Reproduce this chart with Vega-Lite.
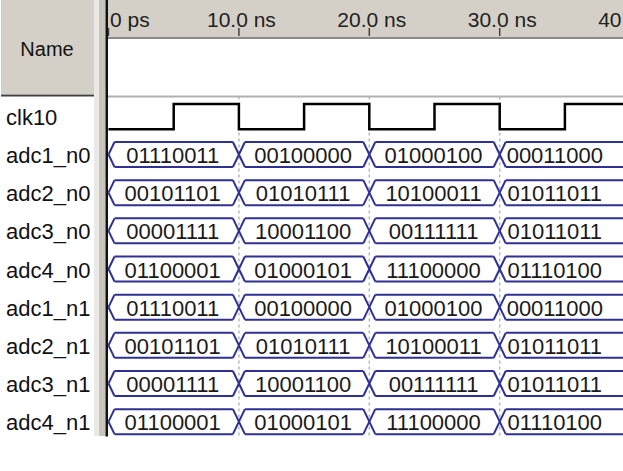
{
  "$schema": "https://vega.github.io/schema/vega-lite/v6.json",
  "padding": 0,
  "spacing": 0,
  "bounds": "flush",
  "background": "white",
  "config": {"view": {"stroke": null}},
  "datasets": {
    "names": [
      {"sig": "clk10", "k": 0},
      {"sig": "adc1_n0", "k": 1},
      {"sig": "adc2_n0", "k": 2},
      {"sig": "adc3_n0", "k": 3},
      {"sig": "adc4_n0", "k": 4},
      {"sig": "adc1_n1", "k": 5},
      {"sig": "adc2_n1", "k": 6},
      {"sig": "adc3_n1", "k": 7},
      {"sig": "adc4_n1", "k": 8}
    ],
    "clk": [
      {"t": 0, "lvl": 0}, {"t": 5, "lvl": 1}, {"t": 10, "lvl": 0}, {"t": 15, "lvl": 1},
      {"t": 20, "lvl": 0}, {"t": 25, "lvl": 1}, {"t": 30, "lvl": 0}, {"t": 35, "lvl": 1}, {"t": 40, "lvl": 1}
    ],
    "ruler": [
      {"t": 0, "label": "0 ps"},
      {"t": 10, "label": "10.0 ns"},
      {"t": 20, "label": "20.0 ns"},
      {"t": 30, "label": "30.0 ns"},
      {"t": 40, "label": "40.0 ns"}
    ],
    "bus": [
      {"sig": "adc1_n0", "k": 1, "t0": 0, "t1": 10, "mid": 5, "val": "01110011"},
      {"sig": "adc1_n0", "k": 1, "t0": 10, "t1": 20, "mid": 15, "val": "00100000"},
      {"sig": "adc1_n0", "k": 1, "t0": 20, "t1": 30, "mid": 25, "val": "01000100"},
      {"sig": "adc1_n0", "k": 1, "t0": 30, "t1": 40, "mid": 34.3, "val": "00011000"},
      {"sig": "adc2_n0", "k": 2, "t0": 0, "t1": 10, "mid": 5, "val": "00101101"},
      {"sig": "adc2_n0", "k": 2, "t0": 10, "t1": 20, "mid": 15, "val": "01010111"},
      {"sig": "adc2_n0", "k": 2, "t0": 20, "t1": 30, "mid": 25, "val": "10100011"},
      {"sig": "adc2_n0", "k": 2, "t0": 30, "t1": 40, "mid": 34.3, "val": "01011011"},
      {"sig": "adc3_n0", "k": 3, "t0": 0, "t1": 10, "mid": 5, "val": "00001111"},
      {"sig": "adc3_n0", "k": 3, "t0": 10, "t1": 20, "mid": 15, "val": "10001100"},
      {"sig": "adc3_n0", "k": 3, "t0": 20, "t1": 30, "mid": 25, "val": "00111111"},
      {"sig": "adc3_n0", "k": 3, "t0": 30, "t1": 40, "mid": 34.3, "val": "01011011"},
      {"sig": "adc4_n0", "k": 4, "t0": 0, "t1": 10, "mid": 5, "val": "01100001"},
      {"sig": "adc4_n0", "k": 4, "t0": 10, "t1": 20, "mid": 15, "val": "01000101"},
      {"sig": "adc4_n0", "k": 4, "t0": 20, "t1": 30, "mid": 25, "val": "11100000"},
      {"sig": "adc4_n0", "k": 4, "t0": 30, "t1": 40, "mid": 34.3, "val": "01110100"},
      {"sig": "adc1_n1", "k": 5, "t0": 0, "t1": 10, "mid": 5, "val": "01110011"},
      {"sig": "adc1_n1", "k": 5, "t0": 10, "t1": 20, "mid": 15, "val": "00100000"},
      {"sig": "adc1_n1", "k": 5, "t0": 20, "t1": 30, "mid": 25, "val": "01000100"},
      {"sig": "adc1_n1", "k": 5, "t0": 30, "t1": 40, "mid": 34.3, "val": "00011000"},
      {"sig": "adc2_n1", "k": 6, "t0": 0, "t1": 10, "mid": 5, "val": "00101101"},
      {"sig": "adc2_n1", "k": 6, "t0": 10, "t1": 20, "mid": 15, "val": "01010111"},
      {"sig": "adc2_n1", "k": 6, "t0": 20, "t1": 30, "mid": 25, "val": "10100011"},
      {"sig": "adc2_n1", "k": 6, "t0": 30, "t1": 40, "mid": 34.3, "val": "01011011"},
      {"sig": "adc3_n1", "k": 7, "t0": 0, "t1": 10, "mid": 5, "val": "00001111"},
      {"sig": "adc3_n1", "k": 7, "t0": 10, "t1": 20, "mid": 15, "val": "10001100"},
      {"sig": "adc3_n1", "k": 7, "t0": 20, "t1": 30, "mid": 25, "val": "00111111"},
      {"sig": "adc3_n1", "k": 7, "t0": 30, "t1": 40, "mid": 34.3, "val": "01011011"},
      {"sig": "adc4_n1", "k": 8, "t0": 0, "t1": 10, "mid": 5, "val": "01100001"},
      {"sig": "adc4_n1", "k": 8, "t0": 10, "t1": 20, "mid": 15, "val": "01000101"},
      {"sig": "adc4_n1", "k": 8, "t0": 20, "t1": 30, "mid": 25, "val": "11100000"},
      {"sig": "adc4_n1", "k": 8, "t0": 30, "t1": 40, "mid": 34.3, "val": "01110100"}
    ]
  },
  "hconcat": [
    {
      "width": 107,
      "height": 471,
      "layer": [
        {
          "data": {"values": [{}]},
          "mark": {"type": "rect", "fill": "#d4d0c8"},
          "encoding": {
            "x": {"value": 0}, "x2": {"value": 93},
            "y": {"datum": -3.0477, "scale": {"type": "linear", "domain": [-3.0477, 9.2919], "reverse": true, "nice": false, "zero": false}, "axis": null},
            "y2": {"datum": -0.585}
          }
        },
        {
          "data": {"values": [{}]},
          "mark": {"type": "rule", "stroke": "#404040", "strokeWidth": 2},
          "encoding": {
            "x": {"value": 0}, "x2": {"value": 93},
            "y": {"datum": -0.5457}
          }
        },
        {
          "data": {"values": [{}]},
          "mark": {"type": "rect", "fill": "#ebe9e5"},
          "encoding": {
            "x": {"value": 93}, "x2": {"value": 98},
            "y": {"datum": -3.0477}, "y2": {"datum": 8.375}
          }
        },
        {
          "data": {"values": [{}]},
          "mark": {"type": "rect", "fill": "#c9c5bd"},
          "encoding": {
            "x": {"value": 98}, "x2": {"value": 104.5},
            "y": {"datum": -3.0477}, "y2": {"datum": 8.375}
          }
        },
        {
          "data": {"values": [{}]},
          "mark": {"type": "rect", "fill": "#111111"},
          "encoding": {
            "x": {"value": 104.5}, "x2": {"value": 107},
            "y": {"datum": -3.0477}, "y2": {"datum": 8.39}
          }
        },
        {
          "data": {"values": [{"h": "Name"}]},
          "mark": {"type": "text", "font": "Liberation Sans", "fontSize": 20, "align": "center", "baseline": "alphabetic", "fill": "#111111"},
          "encoding": {
            "x": {"value": 46},
            "y": {"datum": -1.5806},
            "text": {"field": "h"}
          }
        },
        {
          "data": {"name": "names"},
          "mark": {"type": "text", "font": "Liberation Sans", "fontSize": 22, "align": "left", "baseline": "alphabetic", "dy": 8.5, "fill": "#111111"},
          "encoding": {
            "x": {"value": 5},
            "y": {"field": "k", "type": "quantitative"},
            "text": {"field": "sig"}
          }
        }
      ]
    },
    {
      "width": 516,
      "height": 471,
      "resolve": {"scale": {"y": "independent"}},
      "layer": [
        {
          "data": {"values": [{}]},
          "mark": {"type": "rect", "fill": "#d4d0c8"},
          "encoding": {
            "x": {"value": 0}, "x2": {"value": "width"},
            "y": {"datum": -3.0477, "scale": {"type": "linear", "domain": [-3.0477, 9.2919], "reverse": true, "nice": false, "zero": false}, "axis": null},
            "y2": {"datum": -2.078}
          }
        },
        {
          "data": {"values": [{}]},
          "mark": {"type": "rule", "stroke": "#8a8a8a", "strokeWidth": 2},
          "encoding": {
            "x": {"value": 0}, "x2": {"value": "width"},
            "y": {"datum": -2.052, "scale": {"type": "linear", "domain": [-3.0477, 9.2919], "reverse": true, "nice": false, "zero": false}, "axis": null}
          }
        },
        {
          "data": {"values": [{}]},
          "mark": {"type": "rule", "stroke": "#b0b0b0", "strokeWidth": 2},
          "encoding": {
            "x": {"value": 0}, "x2": {"value": "width"},
            "y": {"datum": -0.52, "scale": {"type": "linear", "domain": [-3.0477, 9.2919], "reverse": true, "nice": false, "zero": false}, "axis": null}
          }
        },
        {
          "data": {"name": "ruler"},
          "mark": {"type": "rule", "stroke": "#404040", "strokeWidth": 1.5, "clip": true},
          "encoding": {
            "x": {"field": "t", "type": "quantitative", "scale": {"type": "linear", "domain": [-0.0383, 39.532], "nice": false, "zero": false}, "axis": null},
            "y": {"datum": -2.314, "scale": {"type": "linear", "domain": [-3.0477, 9.2919], "reverse": true, "nice": false, "zero": false}, "axis": null},
            "y2": {"datum": -2.104}
          }
        },
        {
          "data": {"name": "ruler"},
          "transform": [{"filter": "datum.t == 0"}],
          "mark": {"type": "text", "font": "Liberation Sans", "fontSize": 21, "align": "left", "dx": 1.5, "baseline": "alphabetic", "fill": "#222222"},
          "encoding": {
            "x": {"field": "t", "type": "quantitative", "scale": {"type": "linear", "domain": [-0.0383, 39.532], "nice": false, "zero": false}, "axis": null},
            "y": {"datum": -2.348, "scale": {"type": "linear", "domain": [-3.0477, 9.2919], "reverse": true, "nice": false, "zero": false}, "axis": null},
            "text": {"field": "label"}
          }
        },
        {
          "data": {"name": "ruler"},
          "transform": [{"filter": "datum.t > 0"}],
          "mark": {"type": "text", "font": "Liberation Sans", "fontSize": 21, "align": "center", "dx": 2.5, "baseline": "alphabetic", "fill": "#222222", "clip": true},
          "encoding": {
            "x": {"field": "t", "type": "quantitative", "scale": {"type": "linear", "domain": [-0.0383, 39.532], "nice": false, "zero": false}, "axis": null},
            "y": {"datum": -2.348, "scale": {"type": "linear", "domain": [-3.0477, 9.2919], "reverse": true, "nice": false, "zero": false}, "axis": null},
            "text": {"field": "label"}
          }
        },
        {
          "data": {"name": "ruler"},
          "transform": [{"filter": "datum.t > 0 && datum.t < 40"}],
          "mark": {"type": "rule", "stroke": "#b8b8b8", "strokeWidth": 1.5, "strokeDash": [3, 3]},
          "encoding": {
            "x": {"field": "t", "type": "quantitative", "scale": {"type": "linear", "domain": [-0.0383, 39.532], "nice": false, "zero": false}, "axis": null},
            "y": {"datum": -0.52, "scale": {"type": "linear", "domain": [-3.0477, 9.2919], "reverse": true, "nice": false, "zero": false}, "axis": null},
            "y2": {"datum": 8.40}
          }
        },
        {
          "data": {"name": "clk"},
          "mark": {"type": "line", "interpolate": "step-after", "stroke": "#000000", "strokeWidth": 2.5, "clip": true},
          "encoding": {
            "x": {"field": "t", "type": "quantitative", "scale": {"type": "linear", "domain": [-0.0383, 39.532], "nice": false, "zero": false}, "axis": null},
            "y": {"field": "lvl", "type": "quantitative", "scale": {"type": "linear", "domain": [-13.506, 5.111], "nice": false, "zero": false}, "axis": null}
          }
        },
        {
          "data": {"name": "bus"},
          "mark": {"type": "rule", "stroke": "#2e3192", "strokeWidth": 2, "xOffset": 6, "x2Offset": -6, "yOffset": -12.5, "clip": true},
          "encoding": {
            "x": {"field": "t0", "type": "quantitative", "scale": {"type": "linear", "domain": [-0.0383, 39.532], "nice": false, "zero": false}, "axis": null},
            "x2": {"field": "t1"},
            "y": {"field": "k", "type": "quantitative", "scale": {"type": "linear", "domain": [-3.0477, 9.2919], "reverse": true, "nice": false, "zero": false}, "axis": null}
          }
        },
        {
          "data": {"name": "bus"},
          "mark": {"type": "rule", "stroke": "#2e3192", "strokeWidth": 2, "xOffset": 6, "x2Offset": -6, "yOffset": 12.5, "clip": true},
          "encoding": {
            "x": {"field": "t0", "type": "quantitative", "scale": {"type": "linear", "domain": [-0.0383, 39.532], "nice": false, "zero": false}, "axis": null},
            "x2": {"field": "t1"},
            "y": {"field": "k", "type": "quantitative", "scale": {"type": "linear", "domain": [-3.0477, 9.2919], "reverse": true, "nice": false, "zero": false}, "axis": null}
          }
        },
        {
          "data": {"name": "bus"},
          "mark": {"type": "rule", "stroke": "#2e3192", "strokeWidth": 2, "x2Offset": 6, "y2Offset": -12.5, "clip": true},
          "encoding": {
            "x": {"field": "t0", "type": "quantitative", "scale": {"type": "linear", "domain": [-0.0383, 39.532], "nice": false, "zero": false}, "axis": null},
            "x2": {"field": "t0"},
            "y": {"field": "k", "type": "quantitative", "scale": {"type": "linear", "domain": [-3.0477, 9.2919], "reverse": true, "nice": false, "zero": false}, "axis": null},
            "y2": {"field": "k"}
          }
        },
        {
          "data": {"name": "bus"},
          "mark": {"type": "rule", "stroke": "#2e3192", "strokeWidth": 2, "x2Offset": 6, "y2Offset": 12.5, "clip": true},
          "encoding": {
            "x": {"field": "t0", "type": "quantitative", "scale": {"type": "linear", "domain": [-0.0383, 39.532], "nice": false, "zero": false}, "axis": null},
            "x2": {"field": "t0"},
            "y": {"field": "k", "type": "quantitative", "scale": {"type": "linear", "domain": [-3.0477, 9.2919], "reverse": true, "nice": false, "zero": false}, "axis": null},
            "y2": {"field": "k"}
          }
        },
        {
          "data": {"name": "bus"},
          "mark": {"type": "rule", "stroke": "#2e3192", "strokeWidth": 2, "xOffset": -6, "yOffset": -12.5, "clip": true},
          "encoding": {
            "x": {"field": "t1", "type": "quantitative", "scale": {"type": "linear", "domain": [-0.0383, 39.532], "nice": false, "zero": false}, "axis": null},
            "x2": {"field": "t1"},
            "y": {"field": "k", "type": "quantitative", "scale": {"type": "linear", "domain": [-3.0477, 9.2919], "reverse": true, "nice": false, "zero": false}, "axis": null},
            "y2": {"field": "k"}
          }
        },
        {
          "data": {"name": "bus"},
          "mark": {"type": "rule", "stroke": "#2e3192", "strokeWidth": 2, "xOffset": -6, "yOffset": 12.5, "clip": true},
          "encoding": {
            "x": {"field": "t1", "type": "quantitative", "scale": {"type": "linear", "domain": [-0.0383, 39.532], "nice": false, "zero": false}, "axis": null},
            "x2": {"field": "t1"},
            "y": {"field": "k", "type": "quantitative", "scale": {"type": "linear", "domain": [-3.0477, 9.2919], "reverse": true, "nice": false, "zero": false}, "axis": null},
            "y2": {"field": "k"}
          }
        },
        {
          "data": {"name": "bus"},
          "mark": {"type": "text", "font": "Liberation Sans", "fontSize": 22, "align": "center", "baseline": "alphabetic", "dx": -1, "dy": 8.5, "fill": "#1a1a1a", "clip": true},
          "encoding": {
            "x": {"field": "mid", "type": "quantitative", "scale": {"type": "linear", "domain": [-0.0383, 39.532], "nice": false, "zero": false}, "axis": null},
            "y": {"field": "k", "type": "quantitative", "scale": {"type": "linear", "domain": [-3.0477, 9.2919], "reverse": true, "nice": false, "zero": false}, "axis": null},
            "text": {"field": "val"}
          }
        }
      ]
    }
  ]
}
